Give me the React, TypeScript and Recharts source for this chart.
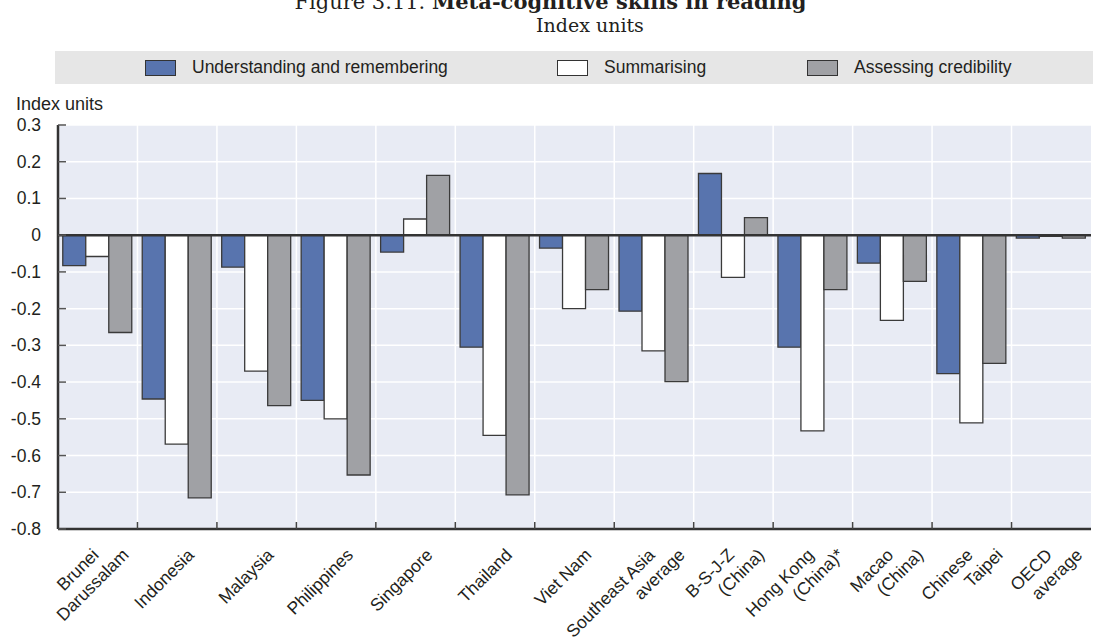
import React from 'react';
import { BarChart, Bar, XAxis, YAxis, CartesianGrid, ReferenceLine } from 'recharts';

const countries = [
  'Brunei\nDarussalam',
  'Indonesia',
  'Malaysia',
  'Philippines',
  'Singapore',
  'Thailand',
  'Viet Nam',
  'Southeast Asia\naverage',
  'B-S-J-Z\n(China)',
  'Hong Kong\n(China)*',
  'Macao\n(China)',
  'Chinese\nTaipei',
  'OECD\naverage',
];
const understanding = [-0.083, -0.446, -0.087, -0.45, -0.046, -0.305, -0.035, -0.207, 0.168, -0.305, -0.076, -0.377, -0.008];
const summarising = [-0.058, -0.569, -0.37, -0.5, 0.044, -0.545, -0.2, -0.315, -0.115, -0.533, -0.232, -0.511, -0.003];
const credibility = [-0.265, -0.715, -0.464, -0.653, 0.163, -0.707, -0.148, -0.399, 0.048, -0.148, -0.126, -0.349, -0.008];
const yTicks = [0.3, 0.2, 0.1, 0, -0.1, -0.2, -0.3, -0.4, -0.5, -0.6, -0.7, -0.8];

const series = [
  { key: 'understanding', name: 'Understanding and remembering', color: '#5874AE' },
  { key: 'summarising', name: 'Summarising', color: '#FFFFFF' },
  { key: 'credibility', name: 'Assessing credibility', color: '#A0A1A5' },
];

const data = countries.map((c, i) => ({
  country: c,
  understanding: understanding[i],
  summarising: summarising[i],
  credibility: credibility[i],
}));

const FONT = '"Liberation Sans", Arial, sans-serif';
const TEXT = '#231f20';
const W = 1101;
const H = 641;
const PLOT_LEFT = 58;
const PLOT_RIGHT = 1091;
const PLOT_BOTTOM = 529;
const BAND = (PLOT_RIGHT - PLOT_LEFT) / countries.length;

const YTick = (props: any) => {
  const { x, y, payload } = props;
  return (
    <g>
      <text x={x} y={y} dy={6} textAnchor="end" fontFamily={FONT} fontSize={17.5} fill={TEXT}>
        {String(payload.value)}
      </text>
      <line x1={x + 17} x2={x + 25} y1={y} y2={y} stroke="#555" strokeWidth={1.5} />
    </g>
  );
};

const XTick = (props: any) => {
  const { x, y, payload, index } = props;
  const lines: string[] = String(payload.value).split('\n');
  const baseY = y + 27;
  const ends = lines.length === 1 ? [x + 18] : [x + 2, x + 32];
  return (
    <g>
      {index > 0 && (
        <line x1={x - BAND / 2} x2={x - BAND / 2} y1={y} y2={y - 7} stroke="#444" strokeWidth={1.5} />
      )}
      {lines.map((l, i) => (
        <text
          key={i}
          x={ends[i]}
          y={baseY}
          transform={`rotate(-45, ${ends[i]}, ${baseY})`}
          textAnchor="end"
          fontFamily={FONT}
          fontSize={17.5}
          fill={TEXT}
        >
          {l}
        </text>
      ))}
    </g>
  );
};

const LegendBox = () => {
  const items = [
    { ...series[0], left: 145 },
    { ...series[1], left: 557 },
    { ...series[2], left: 807 },
  ];
  return (
    <div
      style={{
        position: 'absolute',
        left: 55,
        top: 51,
        width: PLOT_RIGHT - 55 + 2,
        height: 33,
        background: '#E6E6E6',
      }}
    >
      {items.map((it) => (
        <div key={it.key} style={{ position: 'absolute', left: it.left - 55, top: 0, height: 33, display: 'flex', alignItems: 'center' }}>
          <span
            style={{
              display: 'inline-block',
              width: 31,
              height: 16,
              background: it.color,
              border: '1.5px solid #333',
              boxSizing: 'border-box',
              marginRight: 16,
            }}
          />
          <span style={{ fontFamily: FONT, fontSize: 17.5, color: TEXT, lineHeight: '33px' }}>{it.name}</span>
        </div>
      ))}
    </div>
  );
};

export default function App() {
  return (
    <div style={{ position: 'absolute', left: 0, top: 0, width: W, height: H, background: '#fff', overflow: 'hidden' }}>
      <div
        style={{
          position: 'absolute',
          left: 0,
          width: W,
          top: -8,
          textAlign: 'center',
          fontFamily: '"DejaVu Serif", serif',
          fontSize: 21,
          lineHeight: '20px',
          color: TEXT,
          whiteSpace: 'nowrap',
        }}
      >
        Figure 3.11. <b>Meta-cognitive skills in reading</b>
      </div>
      <div
        style={{
          position: 'absolute',
          left: 536,
          top: 16,
          fontFamily: '"DejaVu Serif", serif',
          fontSize: 19,
          lineHeight: '19px',
          color: TEXT,
          whiteSpace: 'nowrap',
        }}
      >
        Index units
      </div>
      <LegendBox />
      <div
        style={{
          position: 'absolute',
          left: 16,
          top: 95,
          fontFamily: FONT,
          fontSize: 18,
          lineHeight: '18px',
          color: TEXT,
          whiteSpace: 'nowrap',
        }}
      >
        Index units
      </div>
      <div style={{ position: 'absolute', left: 0, top: 0 }}>
        <BarChart
          width={W}
          height={H}
          data={data}
          margin={{ top: 125, right: W - PLOT_RIGHT, bottom: 0, left: 0 }}
          barCategoryGap="6%"
          barGap={0}
        >
          <CartesianGrid
            fill="#E8EBF4"
            stroke="#FFFFFF"
            strokeWidth={1.5}
            verticalCoordinatesGenerator={({ offset }: any) =>
              countries.slice(1).map((_, i) => offset.left + ((i + 1) * offset.width) / countries.length)
            }
          />
          <XAxis
            dataKey="country"
            interval={0}
            height={H - PLOT_BOTTOM}
            tickSize={0}
            tickMargin={0}
            tick={<XTick />}
            axisLine={{ stroke: '#333', strokeWidth: 2.5 }}
            tickLine={false}
          />
          <XAxis
            xAxisId="top"
            dataKey="country"
            orientation="top"
            height={0}
            tick={false}
            tickLine={false}
            axisLine={{ stroke: '#333', strokeWidth: 2 }}
          />
          <YAxis
            domain={[-0.8, 0.3]}
            ticks={yTicks}
            width={PLOT_LEFT}
            tickSize={0}
            tickMargin={17}
            tick={<YTick />}
            tickLine={false}
            axisLine={{ stroke: '#333', strokeWidth: 2.5 }}
            allowDataOverflow
          />
          <YAxis
            yAxisId="right"
            orientation="right"
            domain={[-0.8, 0.3]}
            width={0}
            tick={false}
            tickLine={false}
            axisLine={{ stroke: '#333', strokeWidth: 2 }}
          />
          {series.map((s) => (
            <Bar
              key={s.key}
              dataKey={s.key}
              name={s.name}
              fill={s.color}
              stroke="#3a3a3a"
              strokeWidth={1.3}
              isAnimationActive={false}
            />
          ))}
          <ReferenceLine y={0} stroke="#333" strokeWidth={2.5} />
        </BarChart>
      </div>
    </div>
  );
}
